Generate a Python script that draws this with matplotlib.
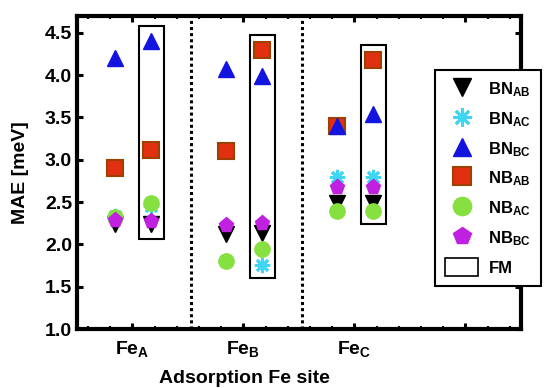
import matplotlib
matplotlib.use("Agg")
import matplotlib.pyplot as plt
from matplotlib.patches import Rectangle, Patch
from matplotlib.lines import Line2D

plt.rcParams['font.family'] = 'Liberation Sans'
plt.rcParams['font.weight'] = 'bold'
plt.rcParams['mathtext.fontset'] = 'custom'
plt.rcParams['mathtext.rm'] = 'Liberation Sans:bold'
plt.rcParams['mathtext.it'] = 'Liberation Sans:bold'
plt.rcParams['mathtext.bf'] = 'Liberation Sans:bold'

# Data: x sites and MAE values (meV); plain column and FM (boxed) column
sites = [1, 2, 3]
site_labels = ['Fe$_{A}$', 'Fe$_{B}$', 'Fe$_{C}$', '']
off_plain = -0.16
off_fm = 0.17

bn_ab = [2.24, 2.12, 2.49]
bn_ac = [2.34, 1.80, 2.80]
bn_bc = [4.20, 4.07, 3.40]
nb_ab = [2.90, 3.10, 3.40]
nb_ac = [2.32, 1.80, 2.39]
nb_bc = [2.29, 2.23, 2.68]

bn_ab_fm = [2.24, 2.14, 2.49]
bn_ac_fm = [2.45, 1.76, 2.80]
bn_bc_fm = [4.40, 3.99, 3.54]
nb_ab_fm = [3.12, 4.30, 4.18]
nb_ac_fm = [2.49, 1.94, 2.39]
nb_bc_fm = [2.28, 2.25, 2.68]

# FM boxes: (ymin, ymax) per site
fm_box = [(2.06, 4.585), (1.60, 4.48), (2.24, 4.36)]
box_half = 0.115
separators = [1.53, 2.53]

series = [
    ('BN$_{AB}$', bn_ab, bn_ab_fm, dict(marker='v', color='black', mec='black'), 4),
    ('BN$_{AC}$', bn_ac, bn_ac_fm, dict(marker=(8, 2, 0), color='#3ed6f2', mec='#3ed6f2', mew=2.0), 3),
    ('BN$_{BC}$', bn_bc, bn_bc_fm, dict(marker='^', color='#1414e0', mec='#1414e0'), 6),
    ('NB$_{AB}$', nb_ab, nb_ab_fm, dict(marker='s', color='#e0300f', mec='#a04000', mew=1.5), 5),
    ('NB$_{AC}$', nb_ac, nb_ac_fm, dict(marker='o', color='#86e040', mec='#86e040'), 4.5),
    ('NB$_{BC}$', nb_bc, nb_bc_fm, dict(marker='p', color='#c020e0', mec='#c020e0'), 7),
]

fig = plt.figure(figsize=(5.5, 3.88), dpi=100)
ax = fig.add_axes([0.14, 0.152, 0.807, 0.807])

handles = []
for label, plain, fm, style, z in series:
    xs = [s + off_plain for s in sites] + [s + off_fm for s in sites]
    ys = plain + fm
    ln, = ax.plot(xs, ys, linestyle='none', markersize=11, zorder=z, label=label, **style)
    handles.append(ln)

for s, (y0, y1) in zip(sites, fm_box):
    ax.add_patch(Rectangle((s + off_fm - box_half, y0), 2 * box_half, y1 - y0,
                           fill=False, edgecolor='black', linewidth=1.5, zorder=2))

for xv in separators:
    ax.axvline(xv, color='black', linestyle=(0, (1, 1)), linewidth=2.2, zorder=1)

ax.set_xlim(0.5, 4.5)
ax.set_ylim(1.0, 4.7)
ax.set_xticks([1, 2, 3, 4])
ax.set_xticklabels(site_labels)
ax.set_xticks([x / 10 for x in range(6, 45, 2)], minor=True)
ax.set_yticks([1.0, 1.5, 2.0, 2.5, 3.0, 3.5, 4.0, 4.5])
ax.set_yticklabels(['%.1f' % v for v in ax.get_yticks()])

ax.tick_params(which='both', direction='in', top=True, right=True, labelsize=14)
ax.tick_params(which='major', length=4, width=2.2)
ax.tick_params(which='minor', length=2.5, width=1.5)
ax.tick_params(axis='x', which='major', pad=7)
for sp in ax.spines.values():
    sp.set_linewidth(3)

ax.set_ylabel('MAE [meV]', fontsize=14, fontweight='bold')
ax.yaxis.set_label_coords(-0.108, 0.5)
ax.set_xlabel('Adsorption Fe site', fontsize=14, fontweight='bold')
ax.xaxis.set_label_coords(0.378, -0.13)

handles.append(Patch(facecolor='white', edgecolor='black', linewidth=1.2, label='FM'))
leg = ax.legend(handles=handles, loc='upper left', bbox_to_anchor=(0.791, 0.8196),
                bbox_transform=fig.transFigure, borderaxespad=0, fontsize=12,
                frameon=True, fancybox=False, framealpha=1, edgecolor='black',
                markerscale=1.2, handlelength=2.0, handleheight=1.3, labelspacing=0.62,
                borderpad=0.6, handletextpad=0.6)
leg.get_frame().set_linewidth(1.5)

fig.savefig('out.png', dpi=100)
